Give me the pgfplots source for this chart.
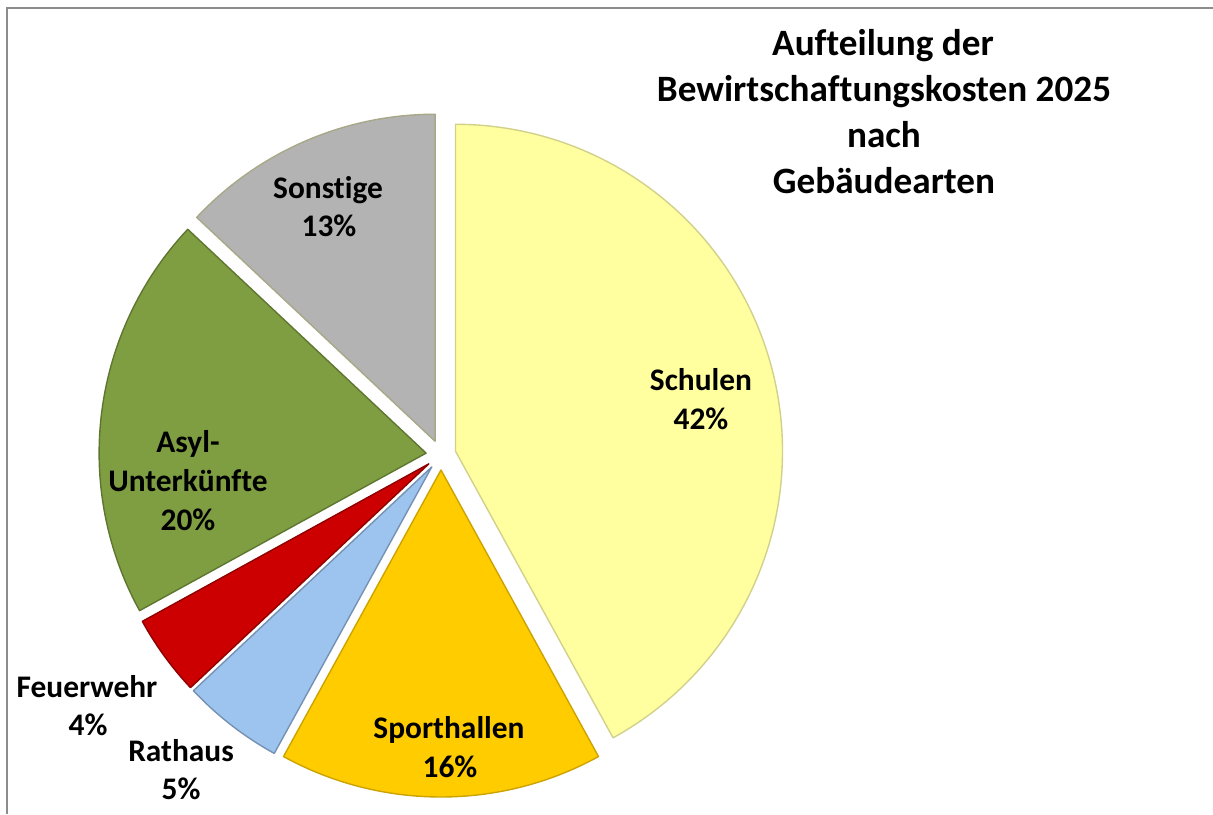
\documentclass[border=0pt]{standalone}
\usepackage{pgfplots}
\pgfplotsset{compat=1.18}
\usepackage{fontspec}
\setmainfont{Carlito}[Ligatures=NoCommon]
\definecolor{cSchulen}{HTML}{FFFF9F}
\definecolor{cSport}{HTML}{FFCC00}
\definecolor{cRathaus}{HTML}{9DC3EF}
\definecolor{cFeuer}{HTML}{CC0000}
\definecolor{cAsyl}{HTML}{7F9E42}
\definecolor{cSonst}{HTML}{B3B3B3}
% #1 cumulative percent before, #2 percent, #3 fill, #4 edge
\newcommand\pieslice[4]{%
  \pgfmathsetmacro\sa{90-3.6*(#1+#2)}%
  \pgfmathsetmacro\sb{90-3.6*(#1)}%
  \pgfmathsetmacro\sm{90-3.6*(#1+#2/2)}%
  \pgfmathsetmacro\ox{441+15*cos(\sm)}%
  \pgfmathsetmacro\oy{359+15*sin(\sm)}%
  \edef\doslice{\noexpand\addplot[fill=#3, draw=#4, line width=0.7pt, line join=round, domain=\sa:\sb, samples=120, variable=\noexpand\t] ({\ox+327*cos(\noexpand\t)},{\oy+327*sin(\noexpand\t)}) -- (axis cs:\ox,\oy) -- cycle;}%
  \doslice
}
\begin{document}
\begin{tikzpicture}
\path[use as bounding box] (0,0) rectangle (606.5pt,407pt);
\begin{axis}[
  at={(0,0)}, anchor=south west,
  scale only axis, width=606.5pt, height=407pt,
  xmin=0, xmax=1213, ymin=0, ymax=814,
  hide axis, clip=false,
]
% frame (left and top edges)
\addplot[draw=black!45, line width=1pt] coordinates {(7,0) (7,806) (1213,806)};
% slices: Schulen 42, Sporthallen 16, Rathaus 5, Feuerwehr 4, Asyl 20, Sonstige 13
\pieslice{0}{42}{cSchulen}{cSchulen!80!black!90}
\pieslice{42}{16}{cSport}{cSport!80!black}
\pieslice{58}{5}{cRathaus}{cRathaus!75!black}
\pieslice{63}{4}{cFeuer}{cFeuer!70!black}
\pieslice{67}{20}{cAsyl}{cAsyl!75!black}
\pieslice{87}{13}{cSonst}{cSonst!60!cSchulen!80!black}
% labels
\begin{scope}[every node/.style={anchor=base, inner sep=0pt, font=\fontsize{15.7}{19}\selectfont\bfseries}]
\node at (axis cs:701,{814-391}) {Schulen};
\node at (axis cs:701,{814-430}) {42\%};
\node at (axis cs:449,{814-738}) {Sporthallen};
\node at (axis cs:450,{814-777}) {16\%};
\node at (axis cs:181,{814-761}) {Rathaus};
\node at (axis cs:181,{814-799}) {5\%};
\node at (axis cs:87,{814-697}) {Feuerwehr};
\node at (axis cs:88,{814-735}) {4\%};
\node at (axis cs:188,{814-453}) {Asyl-};
\node at (axis cs:188,{814-492}) {Unterkünfte};
\node at (axis cs:188,{814-530}) {20\%};
\node at (axis cs:328,{814-199}) {Sonstige};
\node at (axis cs:329,{814-237}) {13\%};
\end{scope}
\begin{scope}[every node/.style={anchor=base, inner sep=0pt, font=\fontsize{18.6}{22}\selectfont\bfseries}]
\node at (axis cs:883,{814-56}) {Aufteilung der};
\node at (axis cs:884,{814-102}) {Bewirtschaftungskosten 2025};
\node at (axis cs:884,{814-148}) {nach};
\node at (axis cs:884,{814-194}) {Gebäudearten};
\end{scope}
\end{axis}
\end{tikzpicture}
\end{document}
